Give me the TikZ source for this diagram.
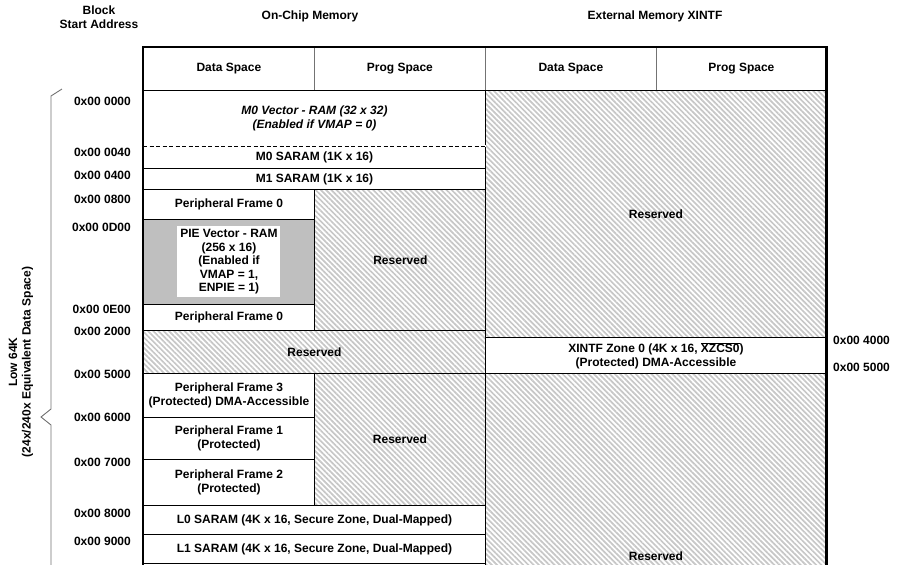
\documentclass[tikz,border=0pt]{standalone}
\usepackage{fontspec}
\setmainfont{Liberation Sans}
\usepackage{tikz}
\usetikzlibrary{patterns.meta}

\tikzset{
  box/.style={draw, line width=0.9pt, inner sep=0pt, anchor=north west, align=center},
  cell/.style={box, fill=white},
  rsvd/.style={box, pattern={Lines[angle=-45,distance=3.7pt,line width=1.7pt]}, pattern color=black!22},
  hcell/.style={cell, draw=black!55, line width=0.7pt},
  addr/.style={anchor=east, inner sep=0pt},
  xaddr/.style={anchor=west, inner sep=0pt},
}

\begin{document}
\begin{tikzpicture}[x=1pt, y=-1pt, font=\fontsize{12}{13.5}\selectfont\bfseries]

  \useasboundingbox[fill=white] (0,0) rectangle (900,565);
  \clip (0,0) rectangle (900,565);

  % titles
  \node[align=center, inner sep=0pt] (blk) at (99,17) {Block\\Start Address};
  \node (onchip) at (310,16) {On-Chip Memory};
  \node (xintf) at (655,16) {External Memory XINTF};

  % header row
  \node[hcell, minimum width=171pt, minimum height=43pt] (hd1) at (143,47) {Data Space};
  \node[hcell, minimum width=171pt, minimum height=43pt] (hd2) at (314,47) {Prog Space};
  \node[hcell, minimum width=171pt, minimum height=43pt] (hd3) at (485,47) {Data Space};
  \node[hcell, minimum width=170pt, minimum height=43pt] (hd4) at (656,47) {Prog Space};

  % on-chip memory
  \node[cell, minimum width=342pt, minimum height=56pt] (m0vec) at (143,90)
    {\itshape M0 Vector - RAM (32 x 32)\\\itshape(Enabled if VMAP = 0)};
  \node[cell, minimum width=342pt, minimum height=22pt] (m0sa) at (143,146) {M0 SARAM (1K x 16)};
  \node[cell, minimum width=342pt, minimum height=21pt] (m1sa) at (143,168) {M1 SARAM (1K x 16)};
  \node[cell, minimum width=171pt, minimum height=30pt] (pf0a) at (143,189) {Peripheral Frame 0};
  \node[box, fill=black!25, minimum width=171pt, minimum height=85pt] (pie) at (143,219) {};
  \node[fill=white, inner sep=0pt, align=center, minimum width=103pt, minimum height=71pt] (pietxt) at (pie.center)
    {PIE Vector - RAM\\(256 x 16)\\(Enabled if\\VMAP = 1,\\ENPIE = 1)};
  \node[cell, minimum width=171pt, minimum height=26pt] (pf0b) at (143,304) {Peripheral Frame 0};
  \node[rsvd, minimum width=171pt, minimum height=141pt] (res1) at (314,189) {Reserved};
  \node[rsvd, minimum width=342pt, minimum height=43pt] (res2) at (143,330) {Reserved};
  \node[cell, minimum width=171pt, minimum height=44pt] (pf3) at (143,373) {Peripheral Frame 3\\(Protected) DMA-Accessible};
  \node[cell, minimum width=171pt, minimum height=42pt] (pf1) at (143,417) {Peripheral Frame 1\\(Protected)};
  \node[cell, minimum width=171pt, minimum height=46pt] (pf2) at (143,459) {Peripheral Frame 2\\(Protected)};
  \node[rsvd, minimum width=171pt, minimum height=132pt] (res3) at (314,373) {Reserved};
  \node[cell, minimum width=342pt, minimum height=29pt] (l0sa) at (143,505) {L0 SARAM (4K x 16, Secure Zone, Dual-Mapped)};
  \node[cell, minimum width=342pt, minimum height=29pt] (l1sa) at (143,534) {L1 SARAM (4K x 16, Secure Zone, Dual-Mapped)};
  \node[cell, minimum width=342pt, minimum height=29pt] (l2sa) at (143,563) {};

  % external memory
  \node[rsvd, minimum width=341pt, minimum height=247pt] (xres1) at (485,90) {Reserved};
  \node[cell, minimum width=341pt, minimum height=36pt] (xz0) at (485,337)
    {XINTF Zone 0 (4K x 16, $\overline{\hbox{XZCS0}}$)\\(Protected) DMA-Accessible};
  \node[rsvd, minimum width=341pt, minimum height=366pt] (xres2) at (485,373) {Reserved};

  % dashed boundary under M0 vector
  \draw[white, line width=1.6pt] (m0sa.north west) -- (m0sa.north east);
  \draw[line width=0.8pt, dash pattern=on 4pt off 2.5pt] (m0sa.north west) -- (m0sa.north east);

  % outer frame
  \draw[line width=2.6pt] (hd1.north west |- 0,600) -- (hd1.north west) -- (hd4.north east) -- (hd4.north east |- 0,600);

  % start addresses
  \node[addr] (a0000) at (131,101) {0x00 0000};
  \node[addr] (a0040) at (131,152) {0x00 0040};
  \node[addr] (a0400) at (131,175) {0x00 0400};
  \node[addr] (a0800) at (131,199) {0x00 0800};
  \node[addr] (a0D00) at (131,227) {0x00 0D00};
  \node[addr] (a0E00) at (131,309) {0x00 0E00};
  \node[addr] (a2000) at (131,331) {0x00 2000};
  \node[addr] (a5000) at (131,374) {0x00 5000};
  \node[addr] (a6000) at (131,417) {0x00 6000};
  \node[addr] (a7000) at (131,462) {0x00 7000};
  \node[addr] (a8000) at (131,513) {0x00 8000};
  \node[addr] (a9000) at (131,541) {0x00 9000};
  \node[xaddr] (x4000) at (833,340) {0x00 4000};
  \node[xaddr] (x5000) at (833,367) {0x00 5000};

  % low 64K brace
  \draw[black!55, line width=0.9pt] (62,89) -- (51,96) -- (51,409) -- (41,417) -- (51,425) -- (51,600);
  \node[rotate=90, align=center, inner sep=0pt] (low) at (21,362) {Low 64K\\(24x/240x Equivalent Data Space)};

\end{tikzpicture}
\end{document}
